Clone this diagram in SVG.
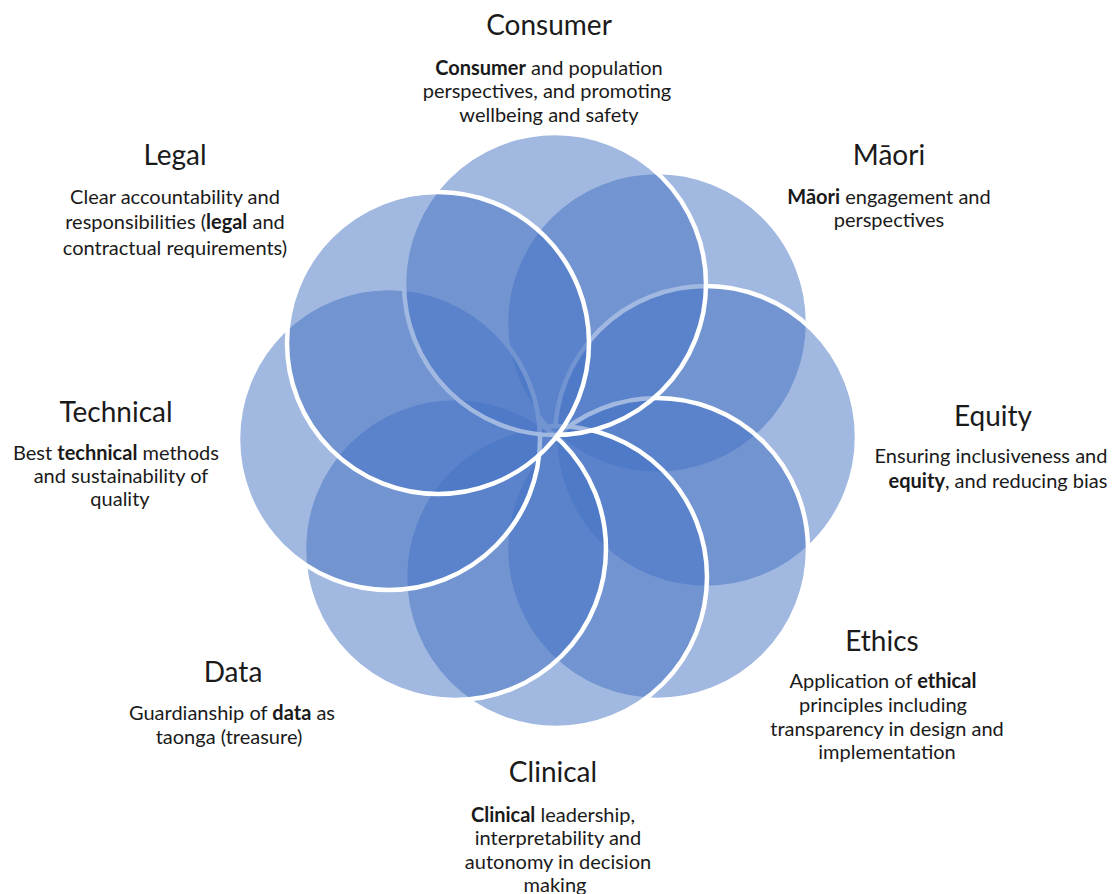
<svg xmlns="http://www.w3.org/2000/svg" width="1117" height="894" viewBox="0 0 1117 894">
<style>
.c{fill:#4472C4;fill-opacity:0.5;stroke:#fff;stroke-width:4.5}
.t{font-family:Lato,"Liberation Sans",sans-serif;font-size:28px;fill:#1a1a1a;text-anchor:middle}
.b{font-family:Lato,"Liberation Sans",sans-serif;font-size:20px;fill:#1a1a1a;text-anchor:middle}
.k{font-weight:700}
</style>
<rect width="1117" height="894" fill="#fff"/>
<g id="rosette">
<circle id="c-maori" class="c" cx="657" cy="323" r="151"/>
<circle id="c-equity" class="c" cx="706" cy="437" r="151"/>
<circle id="c-ethics" class="c" cx="657" cy="549" r="151"/>
<circle id="c-clinical" class="c" cx="556" cy="577" r="151"/>
<circle id="c-data" class="c" cx="455" cy="549" r="151"/>
<circle id="c-technical" class="c" cx="389" cy="439" r="151"/>
<circle id="c-consumer" class="c" cx="555" cy="284" r="151"/>
<circle id="c-legal" class="c" cx="438" cy="343" r="151"/>
</g>
<g id="consumer">
<text class="t" x="549" y="35">Consumer</text>
<text class="b" x="549" y="75"><tspan class="k">Consumer</tspan> and population</text>
<text class="b" x="547" y="98">perspectives, and promoting</text>
<text class="b" x="549" y="122">wellbeing and safety</text>
</g>
<g id="legal">
<text class="t" x="175" y="165">Legal</text>
<text class="b" x="175" y="204">Clear accountability and</text>
<text class="b" x="175" y="229">responsibilities (<tspan class="k">legal</tspan> and</text>
<text class="b" x="175" y="255">contractual requirements)</text>
</g>
<g id="maori">
<text class="t" x="889" y="165">Māori</text>
<text class="b" x="889" y="204"><tspan class="k">Māori</tspan> engagement and</text>
<text class="b" x="889" y="227">perspectives</text>
</g>
<g id="technical">
<text class="t" x="116" y="422">Technical</text>
<text class="b" x="116" y="460">Best <tspan class="k">technical</tspan> methods</text>
<text class="b" x="121" y="483">and sustainability of</text>
<text class="b" x="120" y="506">quality</text>
</g>
<g id="equity">
<text class="t" x="993" y="426">Equity</text>
<text class="b" x="991" y="463">Ensuring inclusiveness and</text>
<text class="b" x="998" y="488"><tspan class="k">equity</tspan>, and reducing bias</text>
</g>
<g id="ethics">
<text class="t" x="882" y="651">Ethics</text>
<text class="b" x="883" y="688">Application of <tspan class="k">ethical</tspan></text>
<text class="b" x="883" y="712">principles including</text>
<text class="b" x="887" y="736">transparency in design and</text>
<text class="b" x="887" y="759">implementation</text>
</g>
<g id="data">
<text class="t" x="233" y="682">Data</text>
<text class="b" x="232" y="720">Guardianship of <tspan class="k">data</tspan> as</text>
<text class="b" x="229" y="744">taonga (treasure)</text>
</g>
<g id="clinical">
<text class="t" x="553" y="782">Clinical</text>
<text class="b" x="553" y="822"><tspan class="k">Clinical</tspan> leadership,</text>
<text class="b" x="558" y="845">interpretability and</text>
<text class="b" x="558" y="869">autonomy in decision</text>
<text class="b" x="555" y="892">making</text>
</g>
</svg>
